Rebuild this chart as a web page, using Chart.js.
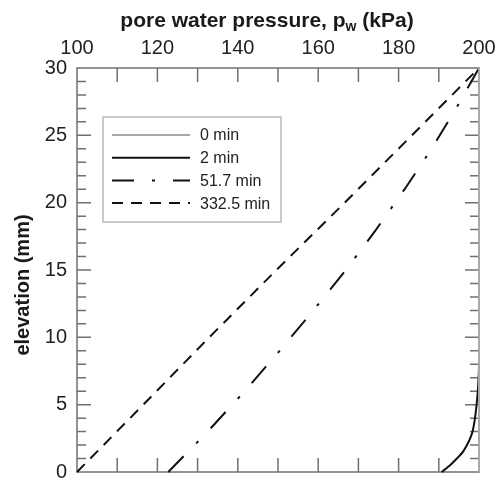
<!DOCTYPE html>
<html>
<head>
<meta charset="utf-8">
<script src="https://cdn.jsdelivr.net/npm/chart.js@4/dist/chart.umd.min.js"></script>
<style>
  html, body { margin: 0; padding: 0; background: #fff; }
  #wrap { width: 497px; height: 481px; }
</style>
</head>
<body>
<div id="wrap"><canvas id="pw"></canvas></div>
<script>
// datos
const seriesNames = ['0 min', '2 min', '51.7 min', '332.5 min'];

const elev0 = [0, 30];
const pw0 = [200, 200];

const elev2 = [0, 0.5, 1, 1.5, 2, 2.5, 3, 4, 5, 6, 7, 8, 30];
const pw2 = [190.7, 192.8, 194.5, 196.0, 197.0, 197.8, 198.4, 199.0, 199.4, 199.7, 199.9, 200, 200];

const elev51 = [0, 3, 6, 9, 12, 15, 18, 21, 24, 27, 30];
const pw51 = [122.7, 132.5, 141.7, 150.4, 158.8, 166.9, 174.4, 181.5, 188.2, 194.3, 200];

const elev332 = [0, 5, 10, 15, 20, 25, 30];
const pw332 = [100, 116.5, 132.9, 149.6, 166.6, 183.3, 200];

const xTicks = [100, 120, 140, 160, 180, 200];
const yTicks = [0, 5, 10, 15, 20, 25, 30];

function pts(xs, ys) {
  return xs.map((x, i) => ({ x: x, y: ys[i] }));
}

const FONT = '"Liberation Sans", Arial, sans-serif';
const frameColor = '#707070';
const styles = [
  { color: '#a8a8a8', dash: [] },
  { color: '#111111', dash: [] },
  { color: '#111111', dash: [22, 18, 3, 18] },
  { color: '#111111', dash: [11, 8] }
];

// marco, marcas hacia adentro, leyenda y titulos
const decoPlugin = {
  id: 'deco',
  beforeDatasetsDraw(chart) {
    const ctx = chart.ctx;
    const a = chart.chartArea;
    const xs = chart.scales.x, ys = chart.scales.y;
    ctx.save();
    ctx.strokeStyle = frameColor;
    ctx.lineWidth = 1.5;
    ctx.strokeRect(a.left, a.top, a.right - a.left, a.bottom - a.top);
    ctx.beginPath();
    for (let v = 110; v < 200; v += 10) {
      const px = xs.getPixelForValue(v);
      ctx.moveTo(px, a.top); ctx.lineTo(px, a.top + 14);
      ctx.moveTo(px, a.bottom); ctx.lineTo(px, a.bottom - 14);
    }
    for (let v = 1; v < 30; v++) {
      const py = ys.getPixelForValue(v);
      const len = v % 5 === 0 ? 14 : 9;
      ctx.moveTo(a.left, py); ctx.lineTo(a.left + len, py);
      ctx.moveTo(a.right, py); ctx.lineTo(a.right - len, py);
    }
    ctx.stroke();
    ctx.restore();
  },
  afterDraw(chart) {
    const ctx = chart.ctx;
    const a = chart.chartArea;
    ctx.save();
    // titulo eje x con subindice
    const cx = 267;
    const baseY = 27;
    const big = 'bold 21px ' + FONT;
    const small = 'bold 14px ' + FONT;
    const t1 = 'pore water pressure, p', t2 = 'w', t3 = ' (kPa)';
    ctx.font = big;
    const w1 = ctx.measureText(t1).width, w3 = ctx.measureText(t3).width;
    ctx.font = small;
    const w2 = ctx.measureText(t2).width;
    const x0 = cx - (w1 + w2 + w3) / 2;
    ctx.fillStyle = '#1a1a1a';
    ctx.textBaseline = 'alphabetic';
    ctx.textAlign = 'left';
    ctx.font = big; ctx.fillText(t1, x0, baseY);
    ctx.font = small; ctx.fillText(t2, x0 + w1, baseY + 4);
    ctx.font = big; ctx.fillText(t3, x0 + w1 + w2, baseY);

    // titulo eje y
    ctx.save();
    ctx.translate(23, 285);
    ctx.rotate(-Math.PI / 2);
    ctx.textAlign = 'center';
    ctx.textBaseline = 'middle';
    ctx.font = 'bold 20px ' + FONT;
    ctx.fillText('elevation (mm)', 0, 0);
    ctx.restore();

    // leyenda
    const bx = 103, by = 117, bw = 178, bh = 105;
    ctx.fillStyle = '#fff';
    ctx.fillRect(bx, by, bw, bh);
    ctx.strokeStyle = '#b8b8b8';
    ctx.lineWidth = 1.5;
    ctx.strokeRect(bx, by, bw, bh);
    ctx.font = '16px ' + FONT;
    ctx.textBaseline = 'middle';
    ctx.textAlign = 'left';
    seriesNames.forEach((name, i) => {
      const y = 135 + i * 22.7;
      ctx.strokeStyle = styles[i].color;
      ctx.lineWidth = 2;
      ctx.setLineDash(styles[i].dash);
      ctx.beginPath();
      ctx.moveTo(112, y); ctx.lineTo(190, y);
      ctx.stroke();
      ctx.setLineDash([]);
      ctx.fillStyle = '#222';
      ctx.fillText(name, 200, y + 1);
    });
    ctx.restore();
  }
};

const series = [pts(pw0, elev0), pts(pw2, elev2), pts(pw51, elev51), pts(pw332, elev332)];

new Chart(document.getElementById('pw').getContext('2d'), {
  type: 'scatter',
  data: {
    datasets: series.map((d, i) => ({
      label: seriesNames[i],
      data: d,
      showLine: true,
      borderColor: styles[i].color,
      borderWidth: 2,
      borderDash: styles[i].dash,
      pointRadius: 0,
      tension: i === 1 ? 0.25 : 0,
      clip: 4
    }))
  },
  options: {
    responsive: true,
    maintainAspectRatio: false,
    animation: false,
    layout: { padding: { right: 18, bottom: 9, left: 0, top: 0 } },
    plugins: {
      legend: { display: false },
      tooltip: { enabled: false }
    },
    scales: {
      x: {
        type: 'linear',
        position: 'top',
        min: 100,
        max: 200,
        afterBuildTicks: s => { s.ticks = xTicks.map(v => ({ value: v })); },
        ticks: {
          font: { size: 20, family: FONT },
          color: '#222',
          padding: 8,
          maxRotation: 0
        },
        grid: { display: false, drawTicks: false },
        border: { display: false },
        afterFit: s => { s.height = 68; s.paddingLeft = 0; s.paddingRight = 0; }
      },
      y: {
        type: 'linear',
        min: 0,
        max: 30,
        afterBuildTicks: s => { s.ticks = yTicks.map(v => ({ value: v })); },
        ticks: {
          font: { size: 20, family: FONT },
          color: '#222',
          padding: 10
        },
        grid: { display: false, drawTicks: false },
        border: { display: false },
        afterFit: s => { s.width = 77; s.paddingTop = 0; s.paddingBottom = 0; }
      }
    }
  },
  plugins: [decoPlugin]
});
</script>
</body>
</html>
